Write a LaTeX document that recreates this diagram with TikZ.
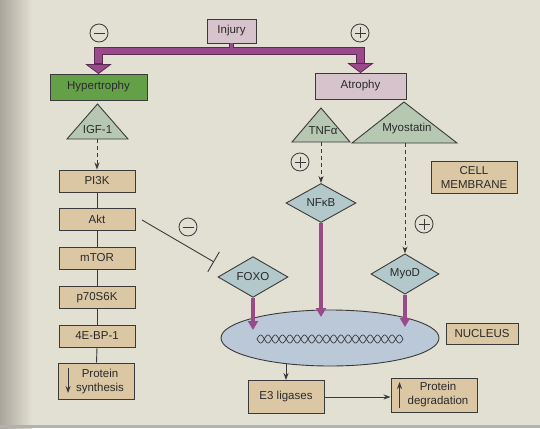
\documentclass[tikz,border=0pt]{standalone}
\usepackage{fontspec}
\setmainfont{Liberation Sans}
\usetikzlibrary{arrows.meta,shapes.geometric,calc}
\definecolor{bg}{HTML}{E2DFD3}
\definecolor{shadowc}{HTML}{A9A59B}
\definecolor{txt}{HTML}{2A2A2A}
\definecolor{edge}{HTML}{3A3A3A}
\definecolor{pinkc}{HTML}{D6C3CB}
\definecolor{greenc}{HTML}{64A047}
\definecolor{tanc}{HTML}{DCC7A5}
\definecolor{tric}{HTML}{B7C8B2}
\definecolor{diac}{HTML}{B3C8CB}
\definecolor{nucc}{HTML}{BAC8D8}
\definecolor{purp}{HTML}{9A4A8A}
\definecolor{pdark}{HTML}{5B2B53}
\begin{document}
\begin{tikzpicture}[x=1pt,y=-1pt,
  every node/.style={text=txt, font=\fontsize{11.5}{14}\selectfont},
  box/.style={draw=edge, line width=0.9pt, inner sep=0pt, rectangle},
  tanbox/.style={box, fill=tanc, minimum width=76pt, minimum height=22pt},
  pinkbox/.style={box, fill=pinkc},
  greenbox/.style={box, fill=greenc},
  tri/.style={fill=tric, draw=edge, line width=0.9pt, line join=miter},
  dia/.style={diamond, draw=edge, fill=diac, line width=0.9pt, inner sep=0pt, minimum width=70pt, minimum height=39pt},
  conn/.style={draw=edge, line width=0.9pt},
  arr/.style={conn, -{Stealth[length=7pt,width=5pt]}},
  dasharr/.style={arr, dash pattern=on 4pt off 3pt},
  parr/.style={draw=purp, line width=4pt, -{Triangle[length=9pt,width=10pt]}},
  sign/.style={circle, draw=edge, line width=0.8pt, minimum size=18pt, inner sep=0pt},
  minussign/.style={sign, path picture={\draw[edge, line width=0.8pt] (path picture bounding box.center) +(-5.5,0) -- +(5.5,0);}},
  plussign/.style={sign, path picture={\draw[edge, line width=0.8pt] (path picture bounding box.center) +(-5.5,0) -- +(5.5,0) (path picture bounding box.center) +(0,-5.5) -- +(0,5.5);}},
]
\fill[bg] (0,0) rectangle (540,428);
\useasboundingbox (0,0) rectangle (540,428);
\shade[left color=shadowc, right color=bg] (0,0) rectangle (32,428);
\fill[gray!60] (0,425) rectangle (540,428);

% top
\node[pinkbox, minimum width=49pt, minimum height=24pt] (injury) at (231.5,31) {Injury};
\node[greenbox, minimum width=97pt, minimum height=26pt] (hyper) at (98.5,87) {Hypertrophy};
\node[pinkbox, minimum width=91pt, minimum height=26pt] (atrophy) at (360.5,86) {Atrophy};
\node[minussign] (m1) at (99,33) {};
\node[plussign] (p1) at (360,33) {};

\coordinate (split) at (injury.south |- 0,51);
\coordinate (hyin) at (hyper.north |- 0,64);
\coordinate (atin) at (atrophy.north |- 0,64);
\draw[pdark, line width=5.5pt] (injury.south) -- (split);
\draw[pdark, line width=8.5pt, line join=miter] (hyin) |- (split) -| (atin);
\draw[purp, line width=3.5pt] (injury.south) -- ([yshift=1pt]split);
\draw[purp, line width=6.5pt, line join=miter] ([yshift=1pt]hyin) |- (split) -| ([yshift=1pt]atin);
\filldraw[fill=purp, draw=pdark, line width=0.8pt, line join=miter] (hyper.north) -- ++(-12,-9) -- ++(24,0) -- cycle;
\filldraw[fill=purp, draw=pdark, line width=0.8pt, line join=miter] (atrophy.north) -- ++(-12,-9) -- ++(24,0) -- cycle;

% left column
\filldraw[tri] (67,139) -- (97.5,104) -- (128,139) -- cycle;
\node (igf) at (97.5,130) {IGF-1};
\coordinate (igfb) at (97,139);
\node[tanbox] (pi3k) at (97,181) {PI3K};
\node[tanbox] (akt) at (97,219.5) {Akt};
\node[tanbox] (mtor) at (97,258) {mTOR};
\node[tanbox] (p70) at (97,297.5) {p70S6K};
\node[tanbox] (ebp) at (97,336) {4E-BP-1};
\node[tanbox, minimum height=36pt] (synth) at (96.5,381) {};
\node[align=center] (synthtxt) at (100,381.5) {Protein\\synthesis};
\draw[arr] ($(synth.west)+(10,-13)$) -- ++(0,25);
\draw[dasharr] (igfb) -- (pi3k.north);
\draw[conn] (pi3k.south) -- (akt.north);
\draw[conn] (akt.south) -- (mtor.north);
\draw[conn] (mtor.south) -- (p70.north);
\draw[conn] (p70.south) -- (ebp.north);
\draw[conn] (ebp.south) -- (synth.north);

% right side triangles
\filldraw[tri] (292,142) -- (321,108) -- (350,142) -- cycle;
\node (tnf) at (323,131) {TNFα};
\coordinate (tnfb) at (321,142);
\filldraw[tri] (352,143) -- (404,102) -- (457,143) -- cycle;
\node (myo) at (407,129) {Myostatin};
\coordinate (myob) at (405,143);

\node[box, fill=tanc, minimum width=86pt, minimum height=32pt, align=center] (cell) at (474,177) {CELL\\MEMBRANE};
\node[box, fill=tanc, minimum width=72pt, minimum height=21pt] (nucl) at (482,333.5) {NUCLEUS};

\node[dia] (nfkb) at (321,203) {NFκB};
\node[dia, minimum width=68pt, minimum height=38pt] (myod) at (405,274) {MyoD};
\node[dia] (foxo) at (253,277) {FOXO};
\node[plussign] (p2) at (300,162) {};
\node[plussign] (p3) at (424,224) {};
\node[minussign] (m2) at (188,227) {};

\draw[dasharr] (tnfb) -- (nfkb.north);
\draw[dasharr] (myob) -- (myod.north);

% inhibition
\coordinate (aktout) at (142,220);
\coordinate (foxobar) at (214,262);
\draw[conn, -{Bar[width=23pt]}] (aktout) -- (foxobar);

% nucleus
\node[ellipse, draw=edge, fill=nucc, line width=0.9pt, minimum width=218pt, minimum height=56pt] (nucleus) at (330,338) {};
\draw[edge, line width=0.7pt, domain=0:146, samples=300] plot ({257+\x}, {339 + 4*sin(\x*24.66)});
\draw[edge, line width=0.7pt, domain=0:146, samples=300] plot ({257+\x}, {339 - 4*sin(\x*24.66)});

\draw[parr] (nfkb.south) -- (nfkb.south |- 0,317);
\draw[parr] (foxo.south) -- (foxo.south |- 0,330);
\draw[parr] (myod.south) -- (myod.south |- 0,327);

% bottom
\node[box, fill=tanc, minimum width=76pt, minimum height=33pt] (e3) at (286,397) {E3 ligases};
\node[box, fill=tanc, minimum width=86pt, minimum height=34pt] (deg) at (434,395) {};
\node[align=center] (degtxt) at (438,395) {Protein\\degradation};
\draw[arr] ($(deg.west)+(9,13)$) -- ++(0,-26);
\draw[arr] (e3.north |- 0,364) -- (e3.north);
\draw[arr] (e3.east) -- (e3.east -| deg.west);
\end{tikzpicture}
\end{document}
